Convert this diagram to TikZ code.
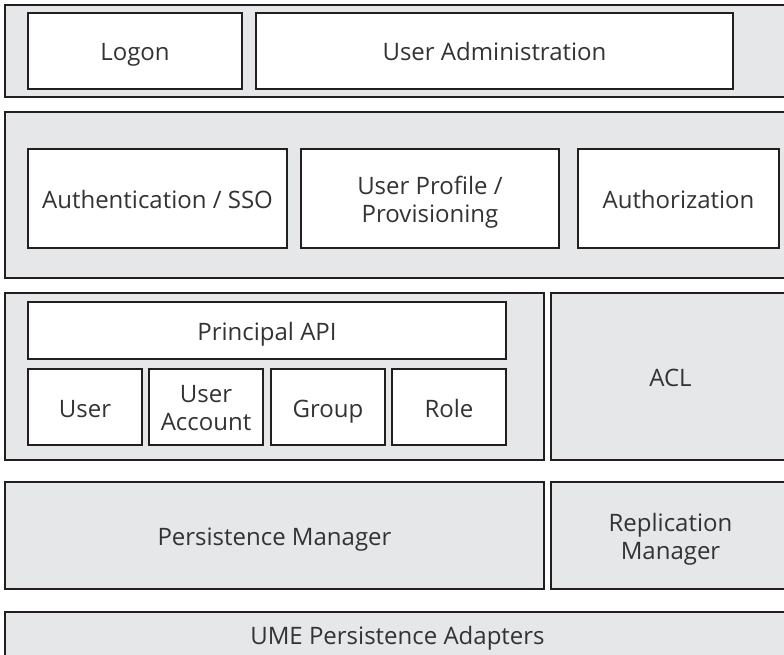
\documentclass[tikz,border=0pt]{standalone}
\usepackage{fontspec}
\setmainfont{Open Sans}
\usepackage{tikz}
\definecolor{umelayercolor}{HTML}{E6E7E8}
\definecolor{umelinecolor}{HTML}{231F20}
\definecolor{umetextcolor}{HTML}{333333}
\tikzset{
  umelayer/.style={draw=umelinecolor, line width=2bp, fill=umelayercolor, rectangle, text=umetextcolor, align=center, inner sep=0pt, font=\fontsize{24bp}{28bp}\selectfont, text height=20bp, text depth=0bp},
  umebox/.style={umelayer, fill=white},
  twolines/.style={text height=47bp, text depth=0bp}
}

\begin{document}
\begin{tikzpicture}[x=1bp, y=-1bp]%
\clip (0, 0) rectangle (784, 655);%
\fill[white] (0, 0) rectangle (784, 655);%
\node[umelayer, minimum width=785bp, minimum height=92bp] (uilayer) at (397.5, 51) {};%
\node[umebox, minimum width=214bp, minimum height=76bp] (logon) at (135, 51) {Logon};%
\node[umebox, minimum width=477bp, minimum height=76bp] (useradmin) at (494.5, 51) {User Administration};%
\node[umelayer, minimum width=785bp, minimum height=166bp] (servicelayer) at (397.5, 195) {};%
\node[umebox, minimum width=259bp, minimum height=99bp] (authsso) at (157.5, 198.5) {Authentication / SSO};%
\node[umebox, twolines, minimum width=258bp, minimum height=99bp] (profile) at (430, 198.5) {User Profile /\\Provisioning};%
\node[umebox, minimum width=201bp, minimum height=99bp] (authz) at (678.5, 198.5) {Authorization};%
\node[umelayer, minimum width=539bp, minimum height=167bp] (principallayer) at (274.5, 376.5) {};%
\node[umebox, minimum width=478bp, minimum height=57bp] (principalapi) at (267, 330.5) {Principal API};%
\node[umebox, minimum width=114bp, minimum height=76bp] (user) at (85, 407) {User};%
\node[umebox, twolines, minimum width=114bp, minimum height=76bp] (useraccount) at (206, 407) {User\\Account};%
\node[umebox, minimum width=114bp, minimum height=76bp] (group) at (328, 407) {Group};%
\node[umebox, minimum width=114bp, minimum height=76bp] (role) at (449, 407) {Role};%
\node[umelayer, minimum width=239bp, minimum height=167bp] (acl) at (670.5, 376.5) {ACL};%
\node[umelayer, minimum width=539bp, minimum height=107bp] (persistence) at (274.5, 535.5) {Persistence Manager};%
\node[umelayer, twolines, minimum width=239bp, minimum height=107bp] (replication) at (670.5, 535.5) {Replication\\Manager};%
\node[umelayer, minimum width=785bp, minimum height=44bp] (adapters) at (397.5, 634) {UME Persistence Adapters};%
\end{tikzpicture}
\end{document}
